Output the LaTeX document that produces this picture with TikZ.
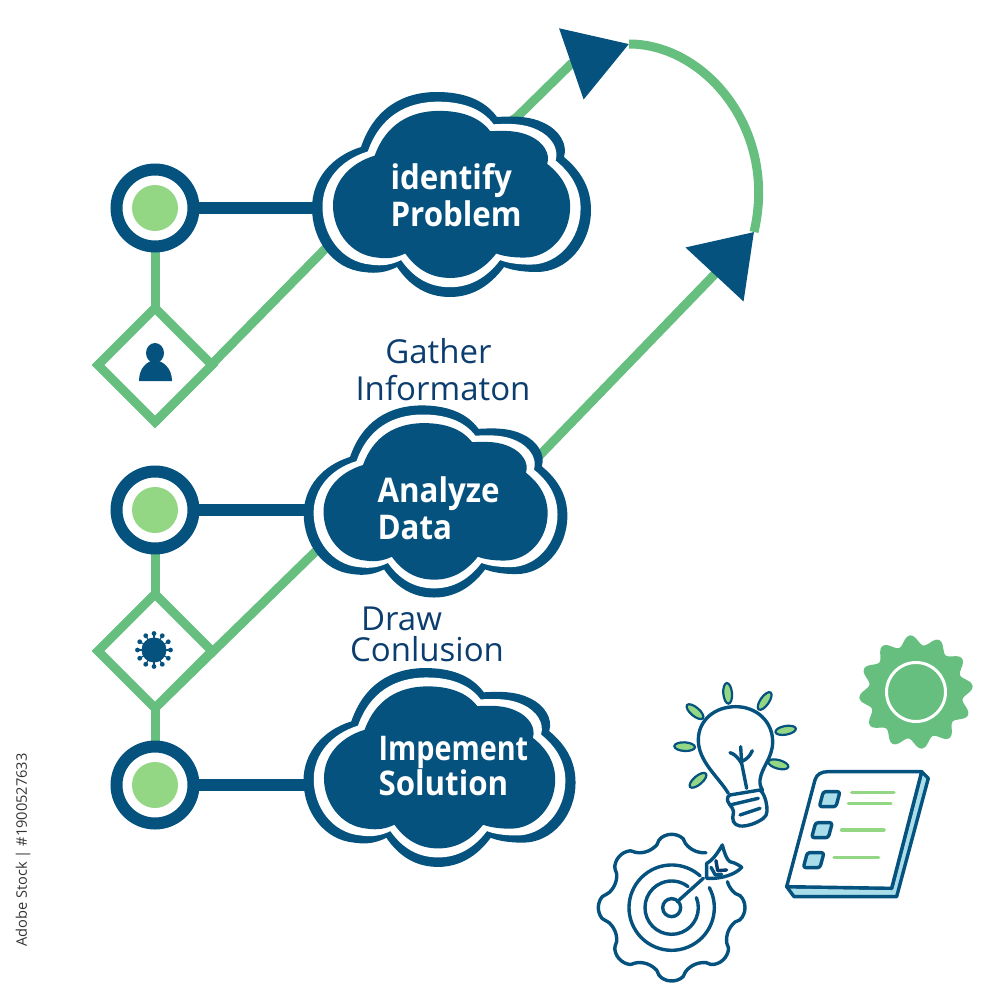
\documentclass[tikz,border=0pt]{standalone}
\usepackage{fontspec}
\setmainfont{Open Sans}
\newfontfamily\cloudfont[FakeStretch=0.92]{Open Sans}
\usetikzlibrary{arrows.meta,shapes.geometric,backgrounds}

\definecolor{navy}{HTML}{05527F}
\definecolor{inkblue}{HTML}{0B3D6E}
\definecolor{leafgreen}{HTML}{66BF7F}
\definecolor{softgreen}{HTML}{93D684}
\definecolor{paleblue}{HTML}{A9DDE9}

\tikzset{
  dotring/.style={circle, draw=navy, fill=white, line width=12pt, minimum size=77pt, inner sep=0pt, outer sep=0pt},
  dotcore/.style={circle, fill=softgreen, minimum size=46pt, inner sep=0pt},
  gate/.style={diamond, draw=leafgreen, fill=white, line width=9pt, minimum size=114pt, inner sep=0pt, outer sep=0pt},
  stem/.style={draw=navy, line width=12pt},
  flow/.style={draw=leafgreen, line width=9pt},
  cloudtext/.style={text=white, align=left, anchor=west, font=\cloudfont\fontsize{34}{37}\selectfont\bfseries},
  steptext/.style={text=inkblue, font=\fontsize{33}{37}\selectfont},
  sketch/.style={draw=navy, line width=3.4pt, line cap=round, line join=round},
  leaf/.style={draw=navy, fill=softgreen, line width=2.2pt},
  tick/.style={draw=softgreen, line width=3.4pt, line cap=round},
}

% Outline of a cloud, around (0,0), in pixels of a 278 wide cloud
\newcommand{\cloudpath}{
  (-91,-47) .. controls (-78,-85) and (-50,-102) .. (-15,-102)
    .. controls (10,-102) and (32,-95) .. (45,-77)
    .. controls (62,-78) and (78,-78) .. (92,-71)
    .. controls (107,-64) and (116,-50) .. (112,-37)
    .. controls (130,-22) and (139,-5) .. (139,16)
    .. controls (139,50) and (115,78) .. (85,78)
    .. controls (75,78) and (62,77) .. (52,73)
    .. controls (38,92) and (20,103) .. (-2,103)
    .. controls (-25,103) and (-42,92) .. (-55,73)
    .. controls (-65,78) and (-75,80) .. (-88,78)
    .. controls (-120,75) and (-140,45) .. (-140,14)
    .. controls (-140,-15) and (-120,-38) .. (-91,-47) -- cycle
}
% Cloud: x, y, x scale, y scale
\newcommand{\cloudbody}[4]{
  \begin{scope}[shift={(#1,#2)}, xscale=#3, yscale=#4]
    \fill[navy] \cloudpath;
    \fill[white, xscale=0.925, yscale=0.905] \cloudpath;
    \fill[navy, xscale=0.85, yscale=0.815] \cloudpath;
  \end{scope}
}

\begin{document}
\begin{tikzpicture}[x=1pt, y=-1pt]
\useasboundingbox (0,0) rectangle (1000,1000);

% ── Clouds ──────────────────────────────────────────────────────────────
\cloudbody{452}{194}{1}{1}
\cloudbody{436}{501}{0.945}{0.937}
\cloudbody{440}{767}{0.975}{0.97}

\node[cloudtext] (identify) at (387,195) {identify\\Problem};
\node[cloudtext] (analyze) at (374,508) {Analyze\\Data};
\node[cloudtext] (solve) at (375,766) {\scalebox{0.92}[1]{Impement}\\[-2pt]Solution};

\node[steptext, align=center] (gather) at (443,370) {Gather\hspace*{9pt}\\Informaton};
\node[steptext, align=left] (draw) at (427,634) {\hspace*{11pt}Draw\\[-6pt]Conlusion};

% ── Left column ─────────────────────────────────────────────────────────
\node[dotring] (dotA) at (155,208) {};
\node[dotcore] (coreA) at (dotA) {};
\node[dotring] (dotB) at (155,510) {};
\node[dotcore] (coreB) at (dotB) {};
\node[dotring] (dotC) at (155,785) {};
\node[dotcore] (coreC) at (dotC) {};

\node[gate] (gateA) at (155,365) {};
\node[gate] (gateB) at (155,651) {};

% person in the first diamond
\fill[navy] (155,353) ellipse [x radius=9, y radius=10];
\fill[navy] (139,381) .. controls (139,368) and (147,361) .. (155,360)
  .. controls (163,361) and (172,368) .. (172,381) -- cycle;

% round germ in the second diamond
\begin{scope}[shift={(154,650)}]
  \fill[navy] (0,0) circle [radius=12.5];
  \foreach \a in {0,30,...,330} {
    \draw[navy, line width=1.2pt] (0,0) -- (\a:16);
    \fill[navy] (\a:16.5) circle [radius=2.4];
  }
\end{scope}

% ── Connectors, behind the rest ─────────────────────────────────────────
\coordinate (bendA) at (328,246);
\coordinate (exitA) at (517,117);
\coordinate (baseA) at (571,64);
\coordinate (tipA) at (629,44);
\coordinate (bendB) at (315,552);
\coordinate (exitB) at (540,455);
\coordinate (baseB) at (714,275);
\coordinate (tipB) at (754,232);

\begin{scope}[on background layer]
  \draw[stem] (dotA) -- (dotA -| identify.west);
  \draw[stem] (dotB) -- (dotB -| analyze.west);
  \draw[stem] (dotC) -- (dotC -| solve.west);
  \draw[flow] (dotA) -- (gateA);
  \draw[flow] (dotB) -- (gateB);
  \draw[flow] (gateB) -- (dotC);
  \draw[flow, -{Triangle[length=61pt, width=73pt, color=navy, fill=navy]}]
    (gateA.south) -- (bendA) -- (exitA) -- (baseA) -- (tipA);
  \draw[flow, -{Triangle[length=58pt, width=77pt, color=navy, fill=navy]}]
    (gateB.south) -- (bendB) -- (exitB) -- (baseB) -- (tipB);
  \draw[flow] (tipA) .. controls (705,44) and (778,130) .. (tipB);
\end{scope}

% ── Green wheel ─────────────────────────────────────────────────────────
\begin{scope}[shift={(916,692)}]
  \fill[leafgreen] plot[domain=0:357, samples=120, smooth cycle]
    (\x:{52+5*cos(12*(\x-264))});
  \draw[white, line width=3pt] (0,0) circle [radius=29.5];
\end{scope}

% ── Sketched icons, traced at three times their size ────────────────────
\begin{scope}[shift={(590,630)}, x=0.3333pt, y=-0.3333pt]

  % bulb
  \foreach \lx/\ly/\la in {413/190/95, 524/213/55, 315/245/-40, 587/301/10,
                           284/350/-3, 565/403/-15, 324/451/40} {
    \draw[leaf] (\lx,\ly) circle [x radius=31, y radius=13, rotate=\la];
  }
  \draw[sketch] (415,490) .. controls (385,440) and (325,395) .. (325,330)
    .. controls (325,270) and (375,230) .. (437,230)
    .. controls (500,230) and (548,275) .. (548,335)
    .. controls (548,385) and (515,410) .. (510,450)
    .. controls (508,465) and (515,475) .. (518,482);
  \draw[sketch] (420,495) -- (510,480) .. controls (522,490) and (525,505) .. (528,515)
    .. controls (532,535) and (535,555) .. (520,565)
    .. controls (500,580) and (470,590) .. (450,588)
    .. controls (430,585) and (425,570) .. (430,550)
    .. controls (432,540) and (425,530) .. (418,522)
    .. controls (410,512) and (410,500) .. (420,495) -- cycle;
  \draw[sketch] (420,525) -- (505,505);
  \draw[sketch] (450,555) -- (510,535);
  \draw[sketch] (452,350) -- (455,400) -- (470,475);
  \draw[sketch] (420,368) .. controls (435,372) and (445,385) .. (455,400);
  \draw[sketch] (487,362) .. controls (480,378) and (470,388) .. (456,394);

  % note pad
  \draw[sketch, fill=paleblue] (995,425) -- (1015,445) -- (920,800) -- (612,800)
    -- (590,770) -- (905,775) -- cycle;
  \draw[sketch, fill=white] (590,770) -- (675,450) .. controls (680,432) and (695,425) .. (715,425)
    -- (995,425) -- (905,775) -- cycle;
  \foreach \bx/\by in {720/507, 697/600, 672/690} {
    \draw[sketch, fill=paleblue, rounded corners=2.5pt]
      (\bx-20,\by-22) -- ++(50,0) -- ++(-12,45) -- ++(-50,0) -- cycle;
  }
  \draw[tick] (785,487) -- (912,487);
  \draw[tick] (775,521) -- (903,521);
  \draw[tick] (755,600) -- (882,600);
  \draw[tick] (732,682) -- (866,682);

  % target on a cog
  \begin{scope}[shift={(245,833)}]
    \draw[sketch] plot[domain=-25:302, samples=131, smooth]
      (\x:{202+18*sign(cos(8*\x))*abs(cos(8*\x))^0.6});
    \draw[sketch] (-28:128) arc [start angle=-28, end angle=312, radius=128];
    \draw[sketch] (-22:80) arc [start angle=-22, end angle=308, radius=80];
    \draw[sketch] (0,0) circle [radius=27];
    \draw[sketch] (17,-18) -- (95,-88);
  \end{scope}
  \draw[sketch, fill=white] (350,745) -- (350,700) .. controls (370,690) and (385,665) .. (397,645)
    .. controls (402,665) and (410,690) .. (420,695)
    .. controls (440,700) and (450,708) .. (455,712)
    .. controls (440,730) and (400,748) .. (350,745) -- cycle;
  \draw[sketch, draw=inkblue] (378,692) -- (383,722) -- (410,720);
  \draw[sketch] (363,712) -- (376,735) -- (395,733);
\end{scope}

% ── Stock number at the edge ────────────────────────────────────────────
\node[rotate=90, anchor=west, text=black!80, font=\fontsize{14.6}{18}\selectfont] (stock) at (23,950)
  {Adobe Stock | \#1900527633};

\end{tikzpicture}
\end{document}
